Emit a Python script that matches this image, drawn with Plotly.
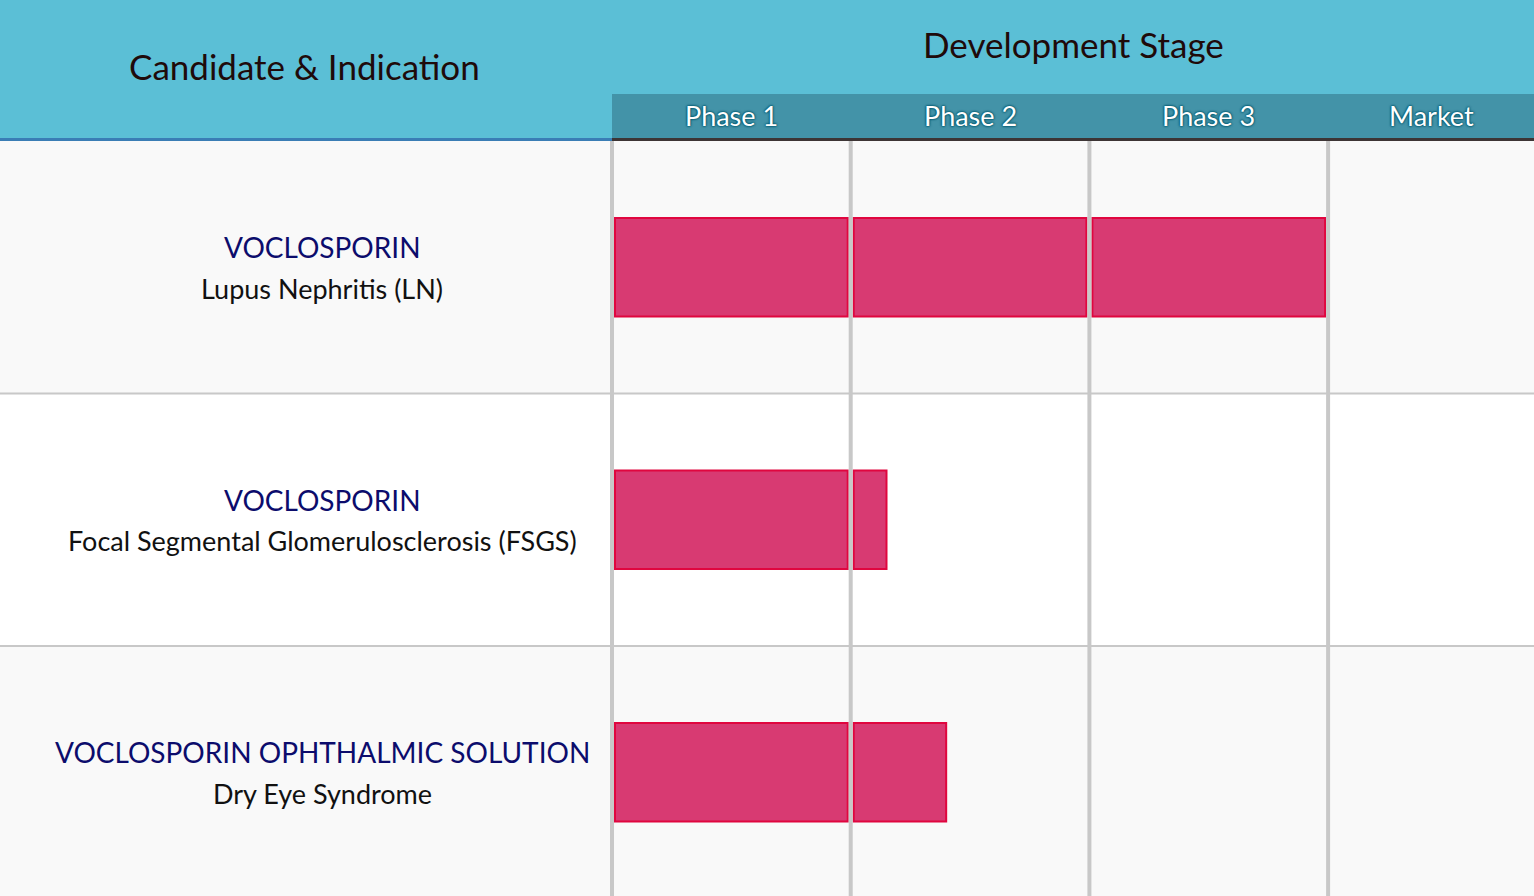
import plotly.graph_objects as go

# pipeline data
candidates = ["VOCLOSPORIN", "VOCLOSPORIN", "VOCLOSPORIN OPHTHALMIC SOLUTION"]
indications = ["Lupus Nephritis (LN)", "Focal Segmental Glomerulosclerosis (FSGS)", "Dry Eye Syndrome"]
progress = [3.0, 1.15, 1.40]  # stages reached, in phase units
stages = ["Phase 1", "Phase 2", "Phase 3", "Market"]

# page geometry (px)
W, H = 1534, 896
left = 612          # label column
col_px = 238.7      # one stage column
header_px = 141
row_px = 252.5
pad = 3             # room so the first divider isn't clipped

x_min = -pad / col_px
x_max = (W - left) / col_px
y_top = 1 - header_px / H
n_vis = (H - header_px) / row_px
gap = 3 / col_px

FONT = "Lato"
BAR = "#d83a72"
BAR_LINE = "#e0063f"
GRID = "#c8c8c8"

# split progress into one box per stage column
seg_y, seg_base, seg_len = [], [], []
for i, p in enumerate(progress):
    for s in range(len(stages)):
        fill = min(max(p - s, 0), 1)
        if fill <= 0:
            continue
        end = s + fill - (gap if fill >= 1 else 0)
        seg_y.append(i)
        seg_base.append(s + gap)
        seg_len.append(end - s - gap)

fig = go.Figure(go.Bar(
    x=seg_len, y=seg_y, base=seg_base, orientation="h", width=0.39,
    marker=dict(color=BAR, line=dict(color=BAR_LINE, width=2)),
    hoverinfo="skip",
))

shapes = []
# row backgrounds
for i in range(len(candidates)):
    shapes.append(dict(type="rect", xref="paper", yref="y", x0=0, x1=1, y0=i - 0.5, y1=i + 0.5,
                       fillcolor="#f9f9f9" if i % 2 == 0 else "#ffffff", line_width=0, layer="below"))
# row separators
for i in range(len(candidates) - 1):
    shapes.append(dict(type="line", xref="paper", yref="y", x0=0, x1=1, y0=i + 0.5, y1=i + 0.5,
                       line=dict(color=GRID, width=2), layer="above"))
# column dividers
for s in range(len(stages)):
    shapes.append(dict(type="line", xref="x", yref="paper", x0=s, x1=s, y0=0, y1=y_top,
                       line=dict(color=GRID, width=4), layer="above"))
# header
shapes += [
    dict(type="rect", xref="paper", yref="paper", x0=0, x1=1, y0=y_top, y1=1,
         fillcolor="#5bbfd6", line_width=0),
    dict(type="rect", xref="paper", yref="paper", x0=left / W, x1=1, y0=1 - 139 / H, y1=1 - 94 / H,
         fillcolor="#4393a8", line_width=0),
    dict(type="line", xref="paper", yref="paper", x0=0, x1=left / W, y0=1 - 139.5 / H, y1=1 - 139.5 / H,
         line=dict(color="#3a7db5", width=3)),
    dict(type="line", xref="paper", yref="paper", x0=left / W, x1=1, y0=1 - 139.5 / H, y1=1 - 139.5 / H,
         line=dict(color="#3d3535", width=3)),
]

annotations = [
    dict(text="Candidate & Indication", xref="paper", yref="paper", x=304 / W, y=1 - 66 / H,
         font=dict(size=35, color="#1f0a0a")),
    dict(text="Development Stage", xref="paper", yref="paper", x=(left + W) / 2 / W, y=1 - 44 / H,
         font=dict(size=35, color="#1f0a0a")),
]
glow = "0px 0px 2px #005a70, 0px 0px 2px #005a70, 0px 0px 3px #005a70"
for s, name in enumerate(stages):
    xc = s + 0.5 if s < len(stages) - 1 else (s + x_max) / 2
    annotations.append(dict(text=name, xref="x", yref="paper", x=xc, y=1 - 116 / H,
                            font=dict(size=27, color="white", shadow=glow)))
for i, (c, ind) in enumerate(zip(candidates, indications)):
    annotations.append(dict(text=c, xref="paper", yref="y", x=322 / W, y=i, yshift=20,
                            font=dict(size=28, color="#0c0c6c")))
    annotations.append(dict(text=ind, xref="paper", yref="y", x=322 / W, y=i, yshift=-21,
                            font=dict(size=27, color="#111111")))
for a in annotations:
    a.update(showarrow=False, xanchor="center", yanchor="middle")

fig.update_layout(
    width=W, height=H,
    margin=dict(l=0, r=0, t=0, b=0),
    paper_bgcolor="white", plot_bgcolor="rgba(0,0,0,0)",
    font=dict(family=FONT),
    showlegend=False,
    shapes=shapes,
    annotations=annotations,
    xaxis=dict(domain=[(left - pad) / W, 1], range=[x_min, x_max], visible=False, fixedrange=True),
    yaxis=dict(domain=[0, y_top], range=[n_vis - 0.5, -0.5], visible=False, fixedrange=True),
)

fig.write_html("out.html", config={"displayModeBar": False})

# drop the default page margin so the figure fills the window
with open("out.html", encoding="utf-8") as f:
    page = f.read()
page = page.replace("<body>", '<body style="margin:0;overflow:hidden">', 1)
with open("out.html", "w", encoding="utf-8") as f:
    f.write(page)
